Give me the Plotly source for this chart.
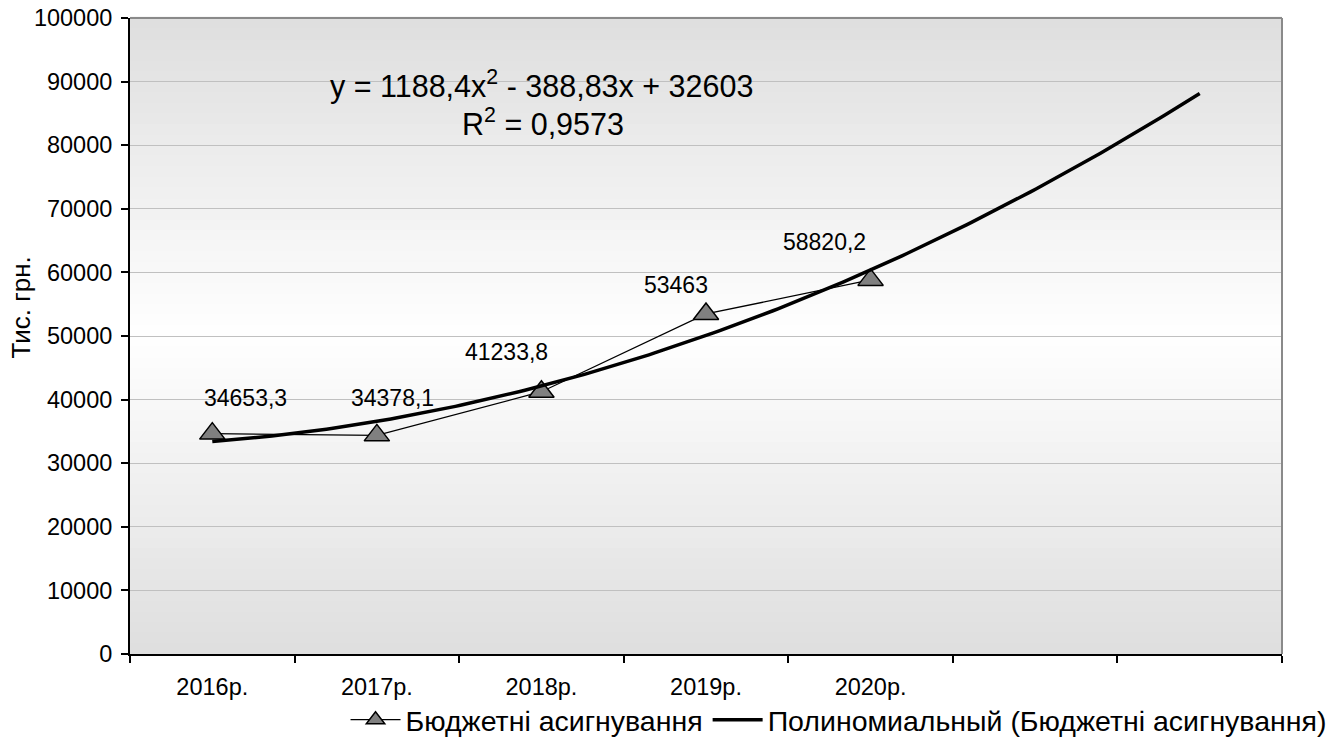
import numpy as np
import plotly.graph_objects as go

# Budget allocations by year (thousand UAH)
years = ["2016р.", "2017р.", "2018р.", "2019р.", "2020р."]
allocations = [34653.3, 34378.1, 41233.8, 53463.0, 58820.2]
n_slots = 7  # category slots on the x axis (two empty forecast slots)

series_name = "Бюджетні асигнування"
trend_name = "Полиномиальный (Бюджетні асигнування)"
y_title = "Тис. грн."
eq_line1 = "y = 1188,4x<sup>2</sup> - 388,83x + 32603"
eq_line2 = "R<sup>2</sup> = 0,9573"

# label offsets (px) relative to each marker
label_dx = [33, 16, -35, -30, -46]
label_dy = [36, 37, 40, 29, 38]

FONT = "Liberation Sans, Arial, sans-serif"

x_pos = np.arange(1, len(years) + 1)

# second-order polynomial trend, projected two periods forward
coef = np.polyfit(x_pos, allocations, 2)
x_trend = np.linspace(1, n_slots, 200)
y_trend = np.polyval(coef, x_trend)

fig = go.Figure()

fig.add_trace(go.Scatter(
    x=x_pos, y=allocations, name=series_name, mode="lines+markers",
    line=dict(color="black", width=1.3),
    marker=dict(symbol="triangle-up", size=22, color="#808080",
                line=dict(color="black", width=1.5)),
))
fig.add_trace(go.Scatter(
    x=x_trend, y=y_trend, name=trend_name, mode="lines",
    line=dict(color="black", width=3.5),
))

# vertical gradient background: grey at top and bottom, white in the middle
shapes = []
n_bands = 60
for i in range(n_bands):
    t = (i + 0.5) / n_bands
    k = abs(t - 0.5) * 2
    c = int(round(255 - (255 - 222) * k))
    shapes.append(dict(
        type="rect", xref="x domain", yref="y domain",
        x0=0, x1=1, y0=i / n_bands, y1=(i + 1) / n_bands + 0.002,
        fillcolor=f"rgb({c},{c},{c})", line=dict(width=0), layer="below",
    ))
# grey frame on top and right
shapes.append(dict(type="line", xref="x domain", yref="y domain",
                   x0=0, x1=1, y0=1, y1=1, line=dict(color="#8a8a8a", width=2)))
shapes.append(dict(type="line", xref="x domain", yref="y domain",
                   x0=1, x1=1, y0=0, y1=1, line=dict(color="#8a8a8a", width=2)))

annotations = []
for xi, v, dx, dy in zip(x_pos, allocations, label_dx, label_dy):
    annotations.append(dict(
        x=xi, y=v, xref="x", yref="y", text=f"{v:g}".replace(".", ","),
        showarrow=False, xshift=dx, yshift=dy, xanchor="center", yanchor="middle",
        font=dict(family=FONT, size=23, color="black"),
    ))
annotations.append(dict(x=0.3576, y=0.896, xref="paper", yref="paper", text=eq_line1,
                        showarrow=False, xanchor="center", yanchor="middle",
                        font=dict(family=FONT, size=30.5, color="black")))
annotations.append(dict(x=0.3585, y=0.8365, xref="paper", yref="paper", text=eq_line2,
                        showarrow=False, xanchor="center", yanchor="middle",
                        font=dict(family=FONT, size=30.5, color="black")))
annotations.append(dict(x=-0.0946, y=0.545, xref="paper", yref="paper", text=y_title,
                        showarrow=False, textangle=-90, xanchor="center", yanchor="middle",
                        font=dict(family=FONT, size=26, color="black")))

fig.update_layout(
    width=1334, height=744,
    margin=dict(l=130, r=52, t=18, b=90, autoexpand=False),
    paper_bgcolor="white", plot_bgcolor="white",
    font=dict(family=FONT, size=22, color="black"),
    shapes=shapes, annotations=annotations,
    showlegend=True,
    legend=dict(orientation="h", x=1.043, xanchor="right", y=-0.104, yanchor="middle",
                font=dict(family=FONT, size=28.5, color="black"),
                bgcolor="rgba(0,0,0,0)", itemwidth=50, traceorder="normal"),
)

fig.update_xaxes(
    range=[0.5, n_slots + 0.5], tickmode="array", tickvals=list(x_pos), ticktext=years,
    ticks="", ticklabelstandoff=11, showgrid=False, zeroline=False,
    showline=True, linecolor="black", linewidth=2,
    tickfont=dict(family=FONT, size=23.5, color="black"),
    minor=dict(tickmode="array", tickvals=[i + 0.5 for i in range(n_slots + 1)],
               ticks="outside", ticklen=7, tickwidth=2, tickcolor="black", showgrid=False),
)
fig.update_yaxes(
    range=[0, 100000], dtick=10000, tick0=0, tickformat="d",
    ticks="outside", ticklen=7, tickwidth=2, tickcolor="black", ticklabelstandoff=4,
    showgrid=True, gridcolor="#c0c0c0", gridwidth=1.2, zeroline=False,
    showline=True, linecolor="black", linewidth=2,
    tickfont=dict(family=FONT, size=23.5, color="black"),
)

fig.write_html("out.html")
